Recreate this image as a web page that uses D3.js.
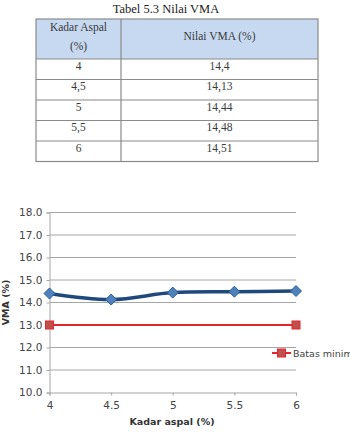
<!DOCTYPE html>
<html>
<head>
<meta charset="utf-8">
<script src="https://cdn.jsdelivr.net/npm/d3@7"></script>
<style>
  body { margin: 0; background: #fff; }
  svg { display: block; }
</style>
</head>
<body>
<svg id="chart" width="350" height="444"></svg>
<script>
// data
const kadarAspal = [4, 4.5, 5, 5.5, 6];
const kadarLabels = ['4', '4,5', '5', '5,5', '6'];
const nilaiVMA = [14.4, 14.13, 14.44, 14.48, 14.51];
const vmaLabels = ['14,4', '14,13', '14,44', '14,48', '14,51'];
const batasX = [4, 6];
const batasMin = [13, 13];
const yTicks = [10, 11, 12, 13, 14, 15, 16, 17, 18];
const xTicks = [4, 4.5, 5, 5.5, 6];

const svg = d3.select('#chart');

// --- table ---
svg.append('text')
    .attr('x', 166)
    .attr('y', 13)
    .attr('text-anchor', 'middle')
    .attr('font-family', 'Liberation Serif, serif')
    .attr('font-size', 12.5)
    .attr('fill', '#222')
    .text('Tabel 5.3 Nilai VMA');

const tLeft = 36, tMid = 121, tRight = 318;
const tTop = 19, headH = 40, rowH = 20.5;

const table = svg.append('g').attr('font-family', 'Liberation Serif, serif').attr('font-size', 11.5).attr('fill', '#3a3a3a');

table.append('rect')
    .attr('x', tLeft).attr('y', tTop)
    .attr('width', tRight - tLeft).attr('height', headH)
    .attr('fill', '#c6d9f1');

table.append('text').attr('x', (tLeft + tMid) / 2).attr('y', tTop + 12).attr('text-anchor', 'middle').text('Kadar Aspal');
table.append('text').attr('x', (tLeft + tMid) / 2).attr('y', tTop + 31).attr('text-anchor', 'middle').text('(%)');
table.append('text').attr('x', (tMid + tRight) / 2).attr('y', tTop + 21).attr('text-anchor', 'middle').text('Nilai VMA (%)');

kadarLabels.forEach((k, i) => {
    const y0 = tTop + headH + i * rowH;
    table.append('text').attr('x', (tLeft + tMid) / 2).attr('y', y0 + 10.5).attr('text-anchor', 'middle').text(k);
    table.append('text').attr('x', (tMid + tRight) / 2).attr('y', y0 + 10.5).attr('text-anchor', 'middle').text(vmaLabels[i]);
});

const tBottom = tTop + headH + kadarLabels.length * rowH;
const lines = table.append('g').attr('stroke', '#8a8a8a').attr('stroke-width', 1.2).attr('fill', 'none');
lines.append('rect').attr('x', tLeft).attr('y', tTop).attr('width', tRight - tLeft).attr('height', tBottom - tTop);
lines.append('line').attr('x1', tMid).attr('x2', tMid).attr('y1', tTop).attr('y2', tBottom);
for (let i = 0; i < kadarLabels.length; i++) {
    const y0 = tTop + headH + i * rowH;
    lines.append('line').attr('x1', tLeft).attr('x2', tRight).attr('y1', y0).attr('y2', y0);
}

// --- chart ---
const x = d3.scaleLinear().domain([4, 6]).range([49.5, 296]);
const y = d3.scaleLinear().domain([10, 18]).range([392.5, 212.5]);

const chart = svg.append('g').attr('font-family', 'DejaVu Sans, sans-serif');

// gridlines
chart.append('g')
    .selectAll('line')
    .data(yTicks.slice(1))
    .join('line')
    .attr('x1', x(4)).attr('x2', x(6))
    .attr('y1', d => y(d)).attr('y2', d => y(d))
    .attr('stroke', '#a6a6a6')
    .attr('stroke-width', 1);

// y axis
const yAxis = chart.append('g')
    .attr('transform', `translate(${x(4)},0)`)
    .call(d3.axisLeft(y).tickValues(yTicks).tickFormat(d3.format('.1f')).tickSize(3).tickPadding(4));
yAxis.select('.domain').attr('stroke', '#a6a6a6');
yAxis.selectAll('.tick line').attr('stroke', '#a6a6a6');
yAxis.selectAll('.tick text').attr('font-size', 10.5).attr('fill', '#444').attr('font-family', 'DejaVu Sans, sans-serif');

// x axis
const xAxis = chart.append('g')
    .attr('transform', `translate(0,${y(10)})`)
    .call(d3.axisBottom(x).tickValues(xTicks).tickFormat(d3.format('')).tickSize(3).tickPadding(6));
xAxis.select('.domain').attr('stroke', '#a6a6a6');
xAxis.selectAll('.tick line').attr('stroke', '#a6a6a6');
xAxis.selectAll('.tick text').attr('font-size', 10.5).attr('fill', '#444').attr('font-family', 'DejaVu Sans, sans-serif');

// axis titles
chart.append('text')
    .attr('transform', `translate(9,${y(14)}) rotate(-90)`)
    .attr('text-anchor', 'middle')
    .attr('font-size', 9.5)
    .attr('font-weight', 'bold')
    .attr('fill', '#333')
    .text('VMA (%)');

chart.append('text')
    .attr('x', 172)
    .attr('y', 425)
    .attr('text-anchor', 'middle')
    .attr('font-size', 9.5)
    .attr('font-weight', 'bold')
    .attr('fill', '#333')
    .text('Kadar aspal (%)');

// batas minimum line
chart.append('path')
    .datum(batasX.map((d, i) => [d, batasMin[i]]))
    .attr('d', d3.line().x(d => x(d[0])).y(d => y(d[1])))
    .attr('fill', 'none')
    .attr('stroke', '#e3262b')
    .attr('stroke-width', 2);

chart.append('g')
    .selectAll('rect')
    .data(batasX.map((d, i) => [d, batasMin[i]]))
    .join('rect')
    .attr('x', d => x(d[0]) - 4)
    .attr('y', d => y(d[1]) - 4)
    .attr('width', 8).attr('height', 8)
    .attr('fill', '#c0504d')
    .attr('stroke', '#e3262b')
    .attr('stroke-width', 1);

// VMA line
const vmaPts = kadarAspal.map((d, i) => [d, nilaiVMA[i]]);
chart.append('path')
    .datum(vmaPts)
    .attr('d', d3.line().x(d => x(d[0])).y(d => y(d[1])).curve(d3.curveCatmullRom))
    .attr('fill', 'none')
    .attr('stroke', '#1f497d')
    .attr('stroke-width', 3.5);

chart.append('g')
    .selectAll('path')
    .data(vmaPts)
    .join('path')
    .attr('transform', d => `translate(${x(d[0])},${y(d[1])})`)
    .attr('d', 'M0,-5.5L5.5,0L0,5.5L-5.5,0Z')
    .attr('fill', '#4f81bd')
    .attr('stroke', '#2c5d96')
    .attr('stroke-width', 1);

// legend (cut at the right edge, as in the source image)
const legend = chart.append('g').attr('transform', 'translate(272,353)');
legend.append('line').attr('x1', 0).attr('x2', 19).attr('stroke', '#e3262b').attr('stroke-width', 2);
legend.append('rect').attr('x', 5.5).attr('y', -4).attr('width', 8).attr('height', 8)
    .attr('fill', '#c0504d').attr('stroke', '#e3262b');
legend.append('text')
    .attr('x', 21)
    .attr('y', 3.5)
    .attr('font-size', 9.5)
    .attr('fill', '#444')
    .text('Batas minimum');
</script>
</body>
</html>
